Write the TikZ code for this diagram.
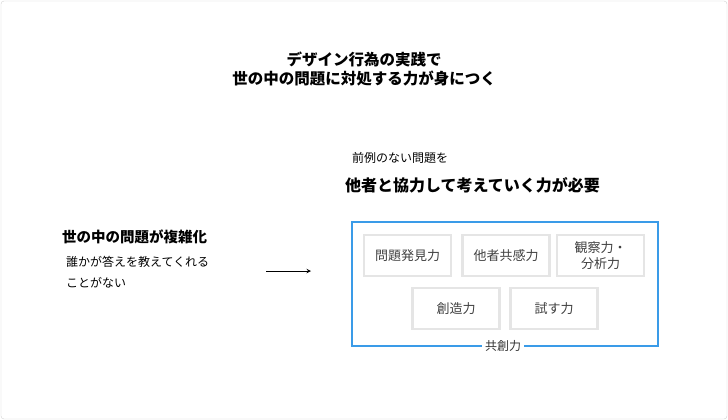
\documentclass[tikz,border=0pt]{standalone}
\usepackage{fontspec}
\setmainfont{Noto Sans CJK JP}
\definecolor{frameblue}{HTML}{3A9BE8}
\begin{document}
\begin{tikzpicture}[x=1pt,y=-1pt,
  skill/.style={draw=black!10,line width=2.5pt,minimum width=87pt,minimum height=41pt,inner sep=0pt,font=\fontsize{13}{16}\selectfont,text=black!75,align=center},
  lab/.style={inner sep=0pt,anchor=west}]
\useasboundingbox (0,0) rectangle (728,420);
\draw[black!18,rounded corners=3pt] (1,1) rectangle (727,419);
\node (title) at (364,69) [align=center,font=\fontsize{15.5}{18.5}\selectfont\bfseries] {デザイン行為の実践で\\世の中の問題に対処する力が身につく};
\node[lab,font=\fontsize{12}{14}\selectfont] (pre) at (352,158) {前例のない問題を};
\node[lab,font=\fontsize{16}{19}\selectfont\bfseries] (need) at (345,185) {他者と協力して考えていく力が必要};
\node[lab,font=\fontsize{14.5}{17}\selectfont\bfseries] (comp) at (62,237) {世の中の問題が複雑化};
\node[lab,font=\fontsize{12}{21}\selectfont,align=left] (nobody) at (66,272) {誰かが答えを教えてくれる\\ことがない};
\coordinate (a1) at (266,271); \coordinate (a2) at (311,271);
\draw[-stealth,line width=1pt] (a1) -- (a2);
\node[draw=frameblue,line width=2.5pt,minimum width=306pt,minimum height=124pt,inner sep=0pt] (frame) at (505,284) {};
\node[skill] (s1) at (407.5,255.5) {問題発見力};
\node[skill] (s2) at (506,255.5) {他者共感力};
\node[skill] (s3) at (600.5,255.5) {観察力・\\分析力};
\node[skill] (s4) at (456,308.5) {創造力};
\node[skill] (s5) at (554,308.5) {試す力};
\node[fill=white,inner xsep=3pt,inner ysep=1pt,font=\fontsize{12}{14}\selectfont,text=black!80] (kyo) at (503,346) {共創力};
\end{tikzpicture}
\end{document}
